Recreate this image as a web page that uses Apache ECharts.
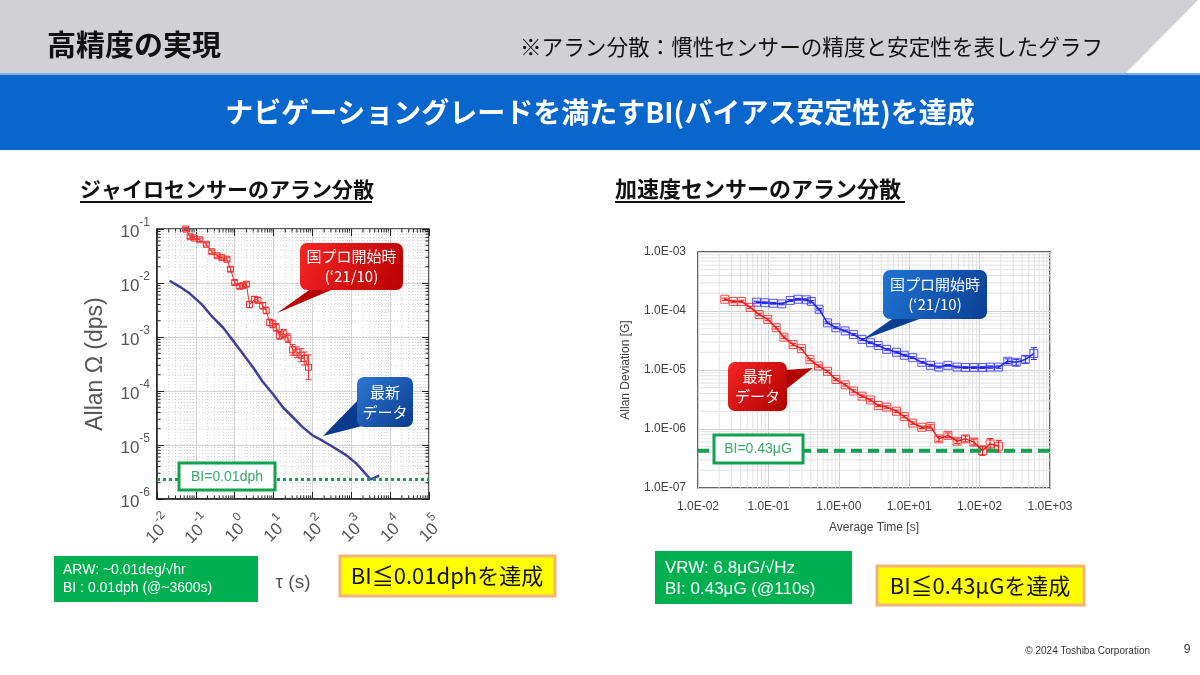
<!DOCTYPE html>
<html><head><meta charset="utf-8">
<script src="https://cdn.jsdelivr.net/npm/echarts@6/dist/echarts.min.js"></script>
<style>html,body{margin:0;padding:0;background:#fff}#c{width:1200px;height:675px}</style>
</head><body><div id="c"></div>
<script>
// ---------- Gyro (left chart) ----------
const gyroNewTau = [0.021, 0.039, 0.071, 0.138, 0.275, 0.50, 0.91, 1.62, 2.95, 5.2, 9.5, 17.4, 31, 56, 102, 182, 331, 740, 1320, 1950, 3160, 5250];
const gyroNewDev = [1.1e-2, 8.5e-3, 6.3e-3, 4.1e-3, 2.3e-3, 1.5e-3, 8.5e-4, 4.9e-4, 2.75e-4, 1.5e-4, 8.9e-5, 5.0e-5, 3.3e-5, 2.14e-5, 1.5e-5, 1.2e-5, 9.3e-6, 6.5e-6, 4.6e-6, 3.4e-6, 2.3e-6, 2.7e-6];
const gyroOldTau = [0.055, 0.071, 0.091, 0.126, 0.186, 0.257, 0.355, 0.468, 0.63, 0.78, 1.0, 1.35, 1.62, 2.0, 2.4, 3.24, 3.98, 5.25, 6.46, 7.94, 9.55, 11.7, 14.1, 18.2, 23.4, 30.9, 39.8, 51.3, 61.7, 79.4];
const gyroOldDev = [0.1, 0.072, 0.068, 0.063, 0.052, 0.038, 0.032, 0.0295, 0.0275, 0.018, 0.0102, 0.0087, 0.0089, 0.0095, 0.0040, 0.0050, 0.0048, 0.0038, 0.0031, 0.00186, 0.00174, 0.00151, 0.00107, 0.00115, 0.00095, 0.00058, 0.00052, 0.00046, 0.00040, 0.000275];
const gyroOldErr = [0.03, 0.03, 0.03, 0.03, 0.03, 0.03, 0.03, 0.03, 0.03, 0.04, 0.04, 0.04, 0.04, 0.04, 0.06, 0.05, 0.05, 0.06, 0.06, 0.06, 0.07, 0.07, 0.07, 0.08, 0.08, 0.1, 0.1, 0.12, 0.12, 0.23];
const gyroBI = 2.3e-6;
const gyroXExps = ['-2', '-1', '0', '1', '2', '3', '4', '5'];
const gyroYExps = ['-6', '-5', '-4', '-3', '-2', '-1'];

// ---------- Accelerometer (right chart) ----------
const accelNewTau = [0.024, 0.0316, 0.0417, 0.055, 0.074, 0.098, 0.129, 0.166, 0.224, 0.295, 0.389, 0.513, 0.69, 0.91, 1.23, 1.62, 2.14, 2.82, 3.63, 4.79, 6.6, 8.5, 11.2, 15.1, 20.0, 26.3, 35.5, 47.9, 63, 83, 110, 141, 186];
const accelNewDev = [1.58e-4, 1.45e-4, 1.45e-4, 1.15e-4, 8.7e-5, 7.2e-5, 5.2e-5, 3.6e-5, 2.7e-5, 2.3e-5, 1.5e-5, 1.17e-5, 9.5e-6, 6.9e-6, 5.6e-6, 4.4e-6, 3.6e-6, 3.1e-6, 2.5e-6, 2.35e-6, 2.0e-6, 1.62e-6, 1.26e-6, 1.07e-6, 1.10e-6, 6.8e-7, 7.8e-7, 6.2e-7, 6.8e-7, 6.0e-7, 4.3e-7, 5.6e-7, 5.1e-7];
const accelNewErr = [0.02, 0.02, 0.02, 0.02, 0.02, 0.02, 0.02, 0.02, 0.02, 0.02, 0.02, 0.02, 0.02, 0.02, 0.02, 0.02, 0.02, 0.02, 0.02, 0.02, 0.02, 0.02, 0.02, 0.02, 0.03, 0.04, 0.04, 0.04, 0.05, 0.05, 0.08, 0.09, 0.1];
const accelOldTau = [0.068, 0.089, 0.117, 0.155, 0.204, 0.263, 0.347, 0.407, 0.525, 0.69, 0.91, 1.23, 1.62, 2.14, 2.82, 3.63, 4.79, 6.6, 8.5, 11.2, 15.1, 20.0, 26.3, 35.5, 47.9, 63, 83, 110, 141, 186, 251, 331, 447, 589];
const accelOldDev = [1.41e-4, 1.38e-4, 1.35e-4, 1.32e-4, 1.51e-4, 1.58e-4, 1.55e-4, 1.45e-4, 1.07e-4, 6.3e-5, 5.2e-5, 4.6e-5, 4.0e-5, 3.3e-5, 2.9e-5, 2.6e-5, 2.24e-5, 2.0e-5, 1.78e-5, 1.62e-5, 1.35e-5, 1.20e-5, 1.12e-5, 1.20e-5, 1.12e-5, 1.10e-5, 1.10e-5, 1.10e-5, 1.12e-5, 1.12e-5, 1.41e-5, 1.35e-5, 1.51e-5, 1.9e-5];
const accelOldErr = [0.015, 0.015, 0.015, 0.015, 0.015, 0.015, 0.015, 0.015, 0.015, 0.015, 0.015, 0.015, 0.015, 0.015, 0.015, 0.015, 0.015, 0.015, 0.015, 0.015, 0.015, 0.015, 0.015, 0.015, 0.015, 0.015, 0.015, 0.015, 0.02, 0.02, 0.04, 0.05, 0.06, 0.1];
const accelBI = 4.3e-7;
const accelXLabels = ['1.0E-02', '1.0E-01', '1.0E+00', '1.0E+01', '1.0E+02', '1.0E+03'];
const accelYLabels = ['1.0E-07', '1.0E-06', '1.0E-05', '1.0E-04', '1.0E-03'];

// ---------- helpers ----------
const JP = '"Noto Sans CJK JP", sans-serif';
const LAT = '"Liberation Sans", Arial, sans-serif';
const GX = [0.01, 1e5], GY = [1e-6, 1e-1];
const AX = [0.01, 1e3], AY = [1e-7, 1e-3];

function minorItems(xr, yr) {
  const out = [];
  for (let e = Math.round(Math.log10(xr[0])); e < Math.round(Math.log10(xr[1])); e++)
    for (let m = 2; m <= 9; m++) out.push([m * Math.pow(10, e), yr[0], 0]);
  for (let e = Math.round(Math.log10(yr[0])); e < Math.round(Math.log10(yr[1])); e++)
    for (let m = 2; m <= 9; m++) out.push([xr[0], m * Math.pow(10, e), 1]);
  return out;
}
function seg(x1, y1, x2, y2, style) { return {type: 'line', shape: {x1, y1, x2, y2}, style}; }
function gridRenderer(xr, yr, style, tickLen) {
  return function (params, api) {
    const kind = api.value(2);
    let a, b;
    if (kind === 0) { a = api.coord([api.value(0), yr[0]]); b = api.coord([api.value(0), yr[1]]); }
    else { a = api.coord([xr[0], api.value(1)]); b = api.coord([xr[1], api.value(1)]); }
    const ch = [seg(a[0], a[1], b[0], b[1], style)];
    if (tickLen) {
      const ts = {stroke: '#222', lineWidth: 1};
      if (kind === 0) { ch.push(seg(a[0], a[1], a[0], a[1] - tickLen, ts), seg(b[0], b[1], b[0], b[1] + tickLen, ts)); }
      else { ch.push(seg(a[0], a[1], a[0] + tickLen, a[1], ts), seg(b[0], b[1], b[0] - tickLen, b[1], ts)); }
    }
    return {type: 'group', children: ch};
  };
}
function errRenderer(color, cap) {
  return function (params, api) {
    const x = api.value(0);
    const p1 = api.coord([x, api.value(2)]), p2 = api.coord([x, api.value(3)]);
    const st = {stroke: color, lineWidth: 1};
    return {type: 'group', children: [
      seg(p1[0], p1[1], p2[0], p2[1], st),
      seg(p1[0] - cap, p1[1], p1[0] + cap, p1[1], st),
      seg(p2[0] - cap, p2[1], p2[0] + cap, p2[1], st)]};
  };
}
function errData(tau, dev, err) { return tau.map((t, i) => [t, dev[i], dev[i] / Math.pow(10, err[i]), dev[i] * Math.pow(10, err[i])]); }
function pairs(a, b) { return a.map((v, i) => [v, b[i]]); }
function supLabel(v, arr, off) { return '{b|10}{s|' + arr[Math.round(Math.log10(v)) + off] + '}'; }
const supRich = {
  b: {fontSize: 17, fontFamily: LAT, color: '#555', lineHeight: 24, verticalAlign: 'bottom'},
  s: {fontSize: 12, fontFamily: LAT, color: '#555', lineHeight: 14, verticalAlign: 'top'}
};

// ---------- graphic helpers ----------
function txt(x, y, text, size, opt) {
  opt = opt || {};
  return {type: 'text', x, y, z: opt.z || 100, style: {
    text, fontSize: size, fontFamily: opt.font || JP, fontWeight: opt.weight || 'normal',
    fill: opt.color || '#111', align: opt.align || 'left', textAlign: opt.align || 'left',
    verticalAlign: 'middle', textVerticalAlign: 'middle', lineHeight: opt.lh || size * 1.25}};
}
function grad(c1, c2) { return {type: 'linear', x: 0, y: 0, x2: 1, y2: 1, colorStops: [{offset: 0, color: c1}, {offset: 1, color: c2}]}; }
function callout(box, tail, c1, c2, lines, size) {
  const cx = box[0] + box[2] / 2, cy = box[1] + box[3] / 2;
  return [
    {type: 'polygon', z: 99, shape: {points: tail}, style: {fill: c2}},
    {type: 'rect', z: 100, shape: {x: box[0], y: box[1], width: box[2], height: box[3], r: 7}, style: {fill: grad(c1, c2)}},
    txt(cx, cy, lines, size, {color: '#fff', align: 'center', lh: size * 1.35, z: 101})
  ];
}

const graphics = [
  {type: 'polygon', z: 0, shape: {points: [[0, 0], [1198, 0], [1125, 74], [0, 74]]}, style: {fill: '#d1d0d5'}},
  {type: 'rect', z: 0, shape: {x: 0, y: 74, width: 1200, height: 76}, style: {fill: '#0866cc'}},
  {type: 'rect', z: 0, shape: {x: 0, y: 73, width: 1200, height: 2}, style: {fill: '#7fb0e6'}},
  txt(47, 45, '高精度の実現', 29, {weight: 'bold'}),
  txt(520, 47, '※アラン分散：慣性センサーの精度と安定性を表したグラフ', 21.6),
  txt(600, 112, 'ナビゲーショングレードを満たすBI(バイアス安定性)を達成', 28, {weight: 'bold', color: '#fff', align: 'center'}),
  txt(80, 189, 'ジャイロセンサーのアラン分散', 21, {weight: 'bold'}),
  {type: 'rect', z: 100, shape: {x: 80, y: 201, width: 292, height: 2}, style: {fill: '#111'}},
  txt(615, 189, '加速度センサーのアラン分散', 22, {weight: 'bold'}),
  {type: 'rect', z: 100, shape: {x: 615, y: 201, width: 290, height: 2}, style: {fill: '#111'}},
  // BI boxes in charts
  {type: 'rect', z: 100, shape: {x: 179, y: 463, width: 96, height: 27}, style: {fill: '#fff', stroke: '#12a14f', lineWidth: 3}},
  txt(227, 477, 'BI=0.01dph', 14, {font: LAT, color: '#3aa868', align: 'center', z: 101}),
  {type: 'rect', z: 100, shape: {x: 714, y: 435, width: 89, height: 28}, style: {fill: '#fff', stroke: '#12a14f', lineWidth: 3}},
  txt(758, 449, 'BI=0.43μG', 14, {font: LAT, color: '#3aa868', align: 'center', z: 101}),
  // bottom boxes
  {type: 'rect', z: 100, shape: {x: 54, y: 556, width: 204, height: 46}, style: {fill: '#00b050'}},
  txt(63, 570, 'ARW: ~0.01deg/√hr', 14, {font: LAT, color: '#fff'}),
  txt(63, 588, 'BI : 0.01dph (@~3600s)', 14, {font: LAT, color: '#fff'}),
  {type: 'rect', z: 100, shape: {x: 340, y: 556, width: 215, height: 40}, style: {fill: '#ffff00', stroke: '#f4b37c', lineWidth: 3}},
  txt(447, 576, 'BI≦0.01dphを達成', 22, {color: '#111', align: 'center'}),
  {type: 'rect', z: 100, shape: {x: 655, y: 551, width: 197, height: 53}, style: {fill: '#00b050'}},
  txt(665, 568, 'VRW: 6.8μG/√Hz', 17, {font: LAT, color: '#fff'}),
  txt(665, 589, 'BI: 0.43μG (@110s)', 17, {font: LAT, color: '#fff'}),
  {type: 'rect', z: 100, shape: {x: 877, y: 566, width: 207, height: 39}, style: {fill: '#ffff00', stroke: '#f4b37c', lineWidth: 3}},
  txt(980, 586, 'BI≦0.43μGを達成', 22, {color: '#111', align: 'center'}),
  txt(1150, 651, '© 2024 Toshiba Corporation', 10, {font: LAT, color: '#333', align: 'right'}),
  txt(1187, 650, '9', 12, {font: LAT, color: '#333', align: 'center'})
].concat(
  callout([300, 243, 103, 47], [[312, 288], [336, 288], [277, 313]], '#f52525', '#b80000', '国プロ開始時\n(‘21/10)', 15),
  callout([357, 377, 56, 50], [[360, 398], [370, 424], [323, 436]], '#2c78d6', '#0b3b8c', '最新\nデータ', 15),
  callout([883, 270, 104, 49], [[895, 317], [925, 317], [862, 340]], '#1f74d4', '#0b3f94', '国プロ開始時\n(‘21/10)', 15),
  callout([728, 362, 59, 49], [[785, 370], [785, 390], [813, 368]], '#f52525', '#b00000', '最新\nデータ', 15)
);

const option = {
  backgroundColor: '#fff',
  animation: false,
  grid: [
    {left: 157, top: 229, width: 272, height: 270, show: true, borderColor: '#222', borderWidth: 1.5, backgroundColor: '#fff'},
    {left: 698, top: 252, width: 352, height: 236, show: true, borderColor: '#333', borderWidth: 1.5, backgroundColor: '#fff'}
  ],
  xAxis: [
    {type: 'log', logBase: 10, gridIndex: 0, min: GX[0], max: GX[1], splitNumber: 10,
      name: 'τ (s)', nameLocation: 'middle', nameGap: 74, nameTextStyle: {fontSize: 19, fontFamily: LAT, color: '#555'},
      axisLine: {show: true, lineStyle: {color: '#222', width: 1.5}},
      axisTick: {show: true, inside: true, length: 7, lineStyle: {color: '#222'}},
      axisLabel: {rotate: 45, margin: 29, align: 'center', verticalAlign: 'middle', formatter: v => supLabel(v, gyroXExps, 2), rich: supRich},
      splitLine: {show: true, lineStyle: {color: '#d4d4d4', width: 1}}},
    {type: 'log', logBase: 10, gridIndex: 0, min: GX[0], max: GX[1], splitNumber: 10, position: 'top',
      axisLine: {show: false}, axisTick: {show: true, inside: true, length: 7, lineStyle: {color: '#222'}},
      axisLabel: {show: false}, splitLine: {show: false}},
    {type: 'log', logBase: 10, gridIndex: 1, min: AX[0], max: AX[1], splitNumber: 10,
      name: 'Average Time [s]', nameLocation: 'middle', nameGap: 34, nameTextStyle: {fontSize: 12, fontFamily: LAT, color: '#404040'},
      axisLine: {show: false}, axisTick: {show: false},
      axisLabel: {margin: 13, fontSize: 12, fontFamily: LAT, color: '#404040', formatter: v => accelXLabels[Math.round(Math.log10(v)) + 2]},
      splitLine: {show: true, lineStyle: {color: '#d0d0d0', width: 1}}}
  ],
  yAxis: [
    {type: 'log', logBase: 10, gridIndex: 0, min: GY[0], max: GY[1], splitNumber: 10,
      name: 'Allan Ω (dps)', nameLocation: 'middle', nameGap: 50, nameTextStyle: {fontSize: 23, fontFamily: LAT, color: '#555'},
      axisLine: {show: true, lineStyle: {color: '#222', width: 1.5}},
      axisTick: {show: true, inside: true, length: 7, lineStyle: {color: '#222'}},
      axisLabel: {margin: 7, formatter: v => supLabel(v, gyroYExps, 6), rich: supRich},
      splitLine: {show: true, lineStyle: {color: '#d4d4d4', width: 1}}},
    {type: 'log', logBase: 10, gridIndex: 0, min: GY[0], max: GY[1], splitNumber: 10, position: 'right',
      axisLine: {show: false}, axisTick: {show: true, inside: true, length: 7, lineStyle: {color: '#222'}},
      axisLabel: {show: false}, splitLine: {show: false}},
    {type: 'log', logBase: 10, gridIndex: 1, min: AY[0], max: AY[1], splitNumber: 10,
      name: 'Allan Deviation [G]', nameLocation: 'middle', nameGap: 66, nameTextStyle: {fontSize: 12, fontFamily: LAT, color: '#404040'},
      axisLine: {show: false}, axisTick: {show: false},
      axisLabel: {margin: 12, fontSize: 12, fontFamily: LAT, color: '#404040', formatter: v => accelYLabels[Math.round(Math.log10(v)) + 7]},
      splitLine: {show: true, lineStyle: {color: '#d0d0d0', width: 1}}}
  ],
  series: [
    // left minor grid + minor ticks
    {type: 'custom', xAxisIndex: 0, yAxisIndex: 0, z: 1, silent: true, clip: false,
      renderItem: gridRenderer(GX, GY, {stroke: '#c8c8c8', lineWidth: 0.8, lineDash: [1, 2]}, 3.5),
      data: minorItems(GX, GY)},
    {type: 'line', name: 'gyroBI', xAxisIndex: 0, yAxisIndex: 0, z: 5, silent: true, symbol: 'none',
      data: [[GX[0], gyroBI], [GX[1], gyroBI]], lineStyle: {color: '#12a14f', type: [3, 3], width: 3}},
    {type: 'line', name: 'gyroNew', xAxisIndex: 0, yAxisIndex: 0, z: 3, data: pairs(gyroNewTau, gyroNewDev),
      symbol: 'none', lineStyle: {color: '#41419b', width: 2.5}},
    {type: 'line', name: 'gyroOld', xAxisIndex: 0, yAxisIndex: 0, z: 4, data: pairs(gyroOldTau, gyroOldDev),
      symbol: 'rect', symbolSize: 6, lineStyle: {color: '#ee3030', width: 1},
      itemStyle: {color: 'rgba(255,255,255,0)', borderColor: '#ee3030', borderWidth: 1}},
    {type: 'custom', xAxisIndex: 0, yAxisIndex: 0, z: 4, silent: true, renderItem: errRenderer('#ee3030', 3),
      encode: {x: 0, y: 1}, data: errData(gyroOldTau, gyroOldDev, gyroOldErr)},
    // right minor grid
    {type: 'custom', xAxisIndex: 2, yAxisIndex: 2, z: 1, silent: true, clip: false,
      renderItem: gridRenderer(AX, AY, {stroke: '#e2e2e2', lineWidth: 1}, 0),
      data: minorItems(AX, AY)},
    {type: 'line', name: 'accelOld', xAxisIndex: 2, yAxisIndex: 2, z: 3, data: pairs(accelOldTau, accelOldDev),
      symbol: 'rect', symbolSize: 8, lineStyle: {color: '#2020f0', width: 1.5},
      itemStyle: {color: 'rgba(80,80,255,0.08)', borderColor: 'rgba(40,40,240,0.75)', borderWidth: 1}},
    {type: 'custom', xAxisIndex: 2, yAxisIndex: 2, z: 3, silent: true, renderItem: errRenderer('#2020f0', 3),
      encode: {x: 0, y: 1}, data: errData(accelOldTau, accelOldDev, accelOldErr)},
    {type: 'line', name: 'accelNew', xAxisIndex: 2, yAxisIndex: 2, z: 4, data: pairs(accelNewTau, accelNewDev),
      symbol: 'rect', symbolSize: 8, lineStyle: {color: '#f01818', width: 1.5},
      itemStyle: {color: 'rgba(255,80,80,0.08)', borderColor: 'rgba(240,24,24,0.75)', borderWidth: 1}},
    {type: 'custom', xAxisIndex: 2, yAxisIndex: 2, z: 4, silent: true, renderItem: errRenderer('#f01818', 3),
      encode: {x: 0, y: 1}, data: errData(accelNewTau, accelNewDev, accelNewErr)},
    {type: 'line', name: 'accelBI', xAxisIndex: 2, yAxisIndex: 2, z: 5, silent: true, symbol: 'none',
      data: [[AX[0], accelBI], [AX[1], accelBI]], lineStyle: {color: '#12a14f', type: [11, 6], width: 4}}
  ],
  graphic: graphics
};
const chart = echarts.init(document.getElementById('c'));
chart.setOption(option);
</script>
</body></html>
